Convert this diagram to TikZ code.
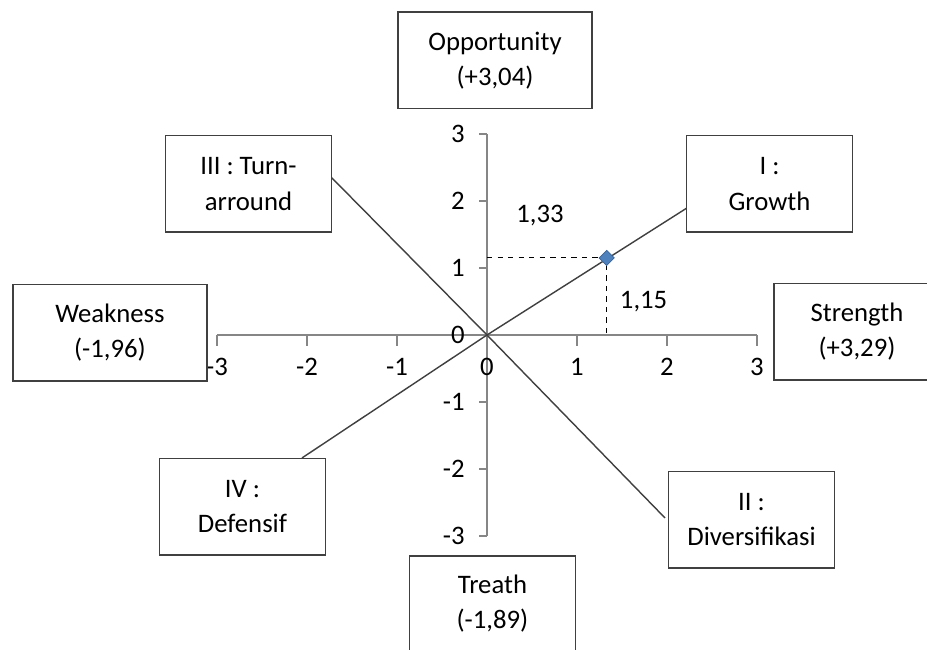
\documentclass[tikz,border=0pt]{standalone}
\usepackage{fontspec}
\setmainfont{Carlito}
\usetikzlibrary{shapes.geometric}
\definecolor{axisgray}{HTML}{868686}
\definecolor{linegray}{HTML}{404040}
\definecolor{ptblue}{HTML}{4F81BD}
\definecolor{ptedge}{HTML}{3A6496}
\tikzset{
  kotak/.style={draw=linegray,line width=0.85pt,fill=white,align=center,
    minimum height=1.93cm,inner sep=2pt},
  lebar/.style={minimum width=3.88cm},
  sempit/.style={minimum width=3.32cm},
  garis/.style={draw=linegray,line width=0.8pt},
  sumbu/.style={draw=axisgray,line width=0.6pt}
}
\begin{document}
\begin{tikzpicture}[x=1.8cm,y=1.34cm,font=\fontsize{15.2pt}{20pt}\selectfont]
\pgfmathsetmacro{\tick}{0.16}
\clip (-5.411,5.0) rectangle (4.889,-4.701);
\fill[white] (-5.411,5.0) rectangle (4.889,-4.701);
\coordinate (o) at (0,0);

% sumbu
\draw[sumbu] (-3,0) -- (3,0);
\draw[sumbu] (0,-3) -- (0,3);
\foreach \x in {-3,...,3}
{
	\draw[sumbu] (\x,0) -- ++(0,-\tick);
	\node at (\x,-0.47) {\x};
}
\foreach \y in {-3,...,3}
{
	\draw[sumbu] (0,\y) -- ++(-0.09,0);
	\node[anchor=east] at (-0.18,\y) {\y};
}

% garis kuadran
\coordinate (q1) at (2.222,1.896);
\coordinate (q2) at (1.978,-2.731);
\coordinate (q3) at (-1.733,2.358);
\coordinate (q4) at (-2.056,-1.836);
\draw[garis] (q4) -- (o) -- (q1);
\draw[garis] (q3) -- (o) -- (q2);

% titik
\coordinate (p) at (1.33,1.15);
\draw[dashed,line width=0.6pt] (0,1.15) -- (p) -- (1.33,0);
\node[diamond,fill=ptblue,draw=ptedge,line width=0.4pt,inner sep=0pt,
  minimum size=0.31cm] (titik) at (p) {};
\node (nx) at (0.589,1.79) {1,33};
\node (ny) at (1.74,0.5) {1,15};

% kotak
\node[kotak,lebar] (opp) at (0.089,4.097) {Opportunity\\(+3,04)};
\node[kotak,sempit] (turn) at (-2.650,2.254) {III : Turn-\\arround};
\node[kotak,sempit] (grow) at (3.139,2.254) {I :\\Growth};
\node[kotak,lebar] (weak) at (-4.189,0.03) {Weakness\\(-1,96)};
\node[kotak,sempit] (str) at (4.111,0.045) {Strength\\(+3,29)};
\node[kotak,sempit] (def) at (-2.717,-2.560) {IV :\\Defensif};
\node[kotak,sempit] (div) at (2.939,-2.754) {II :\\Diversifikasi};
\node[kotak,sempit] (tre) at (0.061,-4.015) {Treath\\(-1,89)};

\end{tikzpicture}
\end{document}
